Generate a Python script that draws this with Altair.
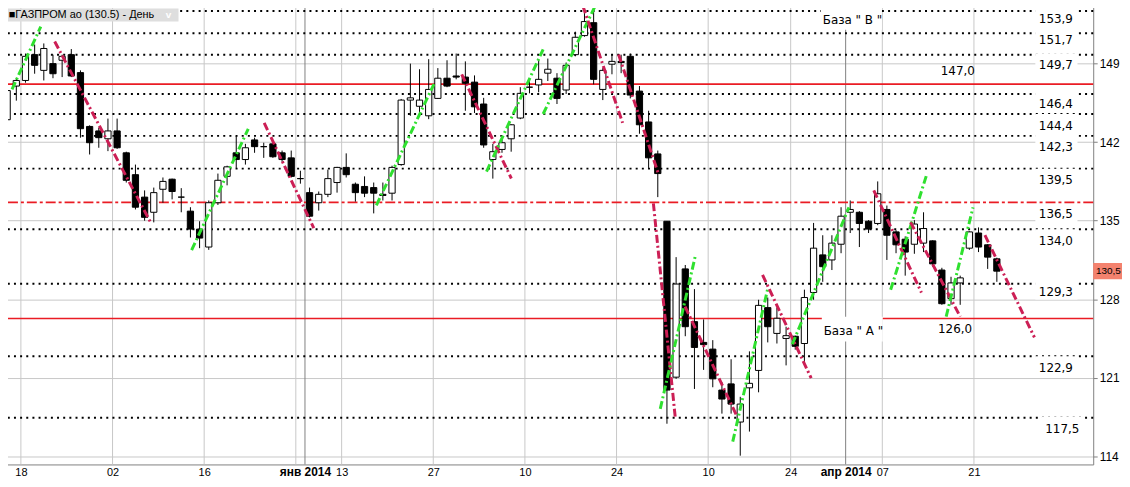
import altair as alt
import pandas as pd

# ---------------- data ----------------
day = list(range(-3, 107))  # trading-day index, 0 = 18 Nov 2013

open_ = [145.7, 144.0, 147.0, 147.5, 149.8, 148.4, 149.0, 149.3, 149.8, 148.2,
         143.4, 143.0, 142.3, 143.0, 141.05, 139.1, 137.1, 135.75, 137.8, 138.7,
         137.1, 135.85, 134.25, 132.65, 136.6, 138.95, 141.05, 140.45, 142.2, 141.6,
         141.85, 141.05, 140.6, 138.75, 137.5, 136.6, 137.35, 138.4, 139.75, 138.25,
         138.05, 137.95, 137.35, 137.45, 140.0, 145.75, 145.2, 144.35, 145.9, 147.7,
         147.9, 147.8, 147.35, 145.4, 140.45, 141.35, 142.3, 144.15, 146.9, 147.1,
         148.15, 147.7, 146.65, 149.8, 151.5, 152.65, 146.7, 148.95, 149.2, 149.65,
         146.55, 143.8, 140.95, 134.95, 121.05, 130.7, 126.0, 124.15, 123.55, 119.9,
         120.45, 117.05, 120.1, 121.65, 127.25, 124.95, 124.5, 124.7, 124.05, 128.6,
         131.95, 131.5, 132.9, 135.75, 135.75, 134.95, 134.75, 136.0, 134.0, 133.35,
         132.9, 133.0, 133.2, 130.6, 128.05, 129.45, 132.55, 133.9, 132.85, 131.6]
high = [146.1, 147.0, 147.7, 149.9, 150.7, 150.8, 149.8, 149.8, 150.3, 148.4,
        143.5, 143.3, 144.1, 144.1, 141.15, 140.0, 137.7, 137.95, 138.85, 138.75,
        137.9, 136.2, 134.95, 136.8, 139.2, 139.9, 142.55, 141.85, 142.4, 141.95,
        142.05, 141.25, 141.25, 139.45, 137.95, 137.6, 139.55, 139.8, 141.0, 138.4,
        138.95, 138.4, 138.4, 139.9, 145.85, 149.0, 148.5, 149.4, 148.6, 149.3,
        149.9, 149.2, 147.95, 145.95, 141.85, 142.4, 143.6, 146.9, 147.7, 149.3,
        149.45, 148.15, 149.1, 151.85, 154.25, 153.6, 148.6, 149.8, 149.8, 149.9,
        147.0, 144.8, 141.25, 134.95, 131.75, 131.05, 128.9, 126.2, 124.35, 120.6,
        122.65, 119.3, 123.35, 127.95, 128.15, 127.25, 125.55, 124.75, 128.85, 134.8,
        133.7, 133.7, 136.2, 136.8, 135.85, 135.05, 138.5, 136.35, 134.15, 133.6,
        135.05, 135.75, 133.25, 130.8, 130.0, 130.1, 134.05, 134.4, 132.9, 131.7]
low = [142.4, 143.5, 145.7, 147.3, 148.1, 147.5, 147.7, 147.8, 147.8, 142.4,
       140.9, 141.5, 141.2, 141.4, 138.4, 136.0, 135.0, 134.85, 136.6, 136.9,
       135.75, 133.5, 132.55, 132.4, 136.4, 138.15, 139.7, 140.0, 141.05, 140.6,
       140.6, 140.25, 138.85, 138.3, 135.3, 135.9, 137.1, 137.5, 138.85, 136.7,
       137.1, 135.65, 136.8, 136.8, 139.9, 144.35, 144.35, 144.05, 145.85, 146.9,
       147.6, 144.8, 144.6, 141.5, 138.75, 141.05, 141.15, 144.05, 146.35, 146.45,
       147.45, 145.4, 146.3, 149.65, 151.4, 147.15, 145.75, 148.05, 148.15, 145.9,
       142.75, 139.7, 137.1, 116.9, 120.9, 124.7, 120.0, 121.7, 120.15, 117.8,
       117.8, 114.05, 116.2, 119.7, 124.15, 124.05, 122.1, 123.5, 122.2, 127.95,
       129.55, 130.6, 132.1, 133.9, 132.65, 133.9, 134.6, 131.5, 132.1, 130.1,
       132.05, 132.2, 130.9, 127.5, 127.5, 127.5, 132.4, 132.2, 130.7, 129.55]
close = [143.0, 146.6, 147.5, 149.65, 148.85, 150.35, 148.1, 149.65, 147.9, 143.2,
         141.95, 142.4, 143.0, 141.5, 138.6, 136.2, 135.3, 137.5, 138.5, 137.6,
         137.1, 134.25, 133.45, 136.6, 138.6, 139.8, 140.45, 141.5, 141.6, 141.6,
         140.7, 140.45, 138.95, 138.75, 135.4, 137.35, 138.75, 139.75, 139.1, 137.5,
         137.45, 137.45, 137.25, 139.75, 145.75, 145.95, 145.75, 146.7, 147.7, 147.0,
         147.8, 147.25, 145.15, 141.75, 141.15, 141.95, 143.55, 146.35, 146.9, 147.6,
         148.5, 145.9, 148.85, 151.35, 152.75, 147.6, 148.4, 149.2, 149.1, 146.2,
         143.55, 140.6, 139.2, 119.9, 129.35, 125.55, 123.7, 123.95, 120.9, 119.1,
         118.65, 118.65, 120.5, 127.45, 125.55, 126.3, 124.75, 123.8, 128.15, 132.55,
         130.9, 133.0, 135.4, 136.0, 134.75, 134.25, 137.4, 133.7, 132.85, 132.2,
         134.7, 134.3, 131.15, 127.6, 129.45, 129.9, 134.0, 132.65, 131.75, 130.5]

# x-axis ticks (gridline positions sit half a day before the candle)
tick_pos = [-0.5, 9.5, 19.5, 30.5, 34.5, 44.5, 54.5, 64.5, 74.5, 83.5, 89.5, 93.5, 103.5]
tick_text = ["18", "02", "16", "янв 2014", "13", "27", "10", "24", "10", "24", "апр 2014", "07", "21"]
month_ticks = [30.5, 89.5]
grid_light = [-0.5, 9.5, 19.5, 29.5, 34.5, 44.5, 54.5, 64.5, 74.5, 83.5, 93.5, 103.5]
y_ticks = [114, 121, 128, 135, 142, 149]

# horizontal levels (as drawn)
dotted_levels = [153.69, 151.71, 149.8, 146.3, 144.51, 142.56, 139.64, 134.24, 129.37, 122.91, 117.43]
red_solid_levels = [147.17, 126.28]
red_dashdot_levels = [136.63]

# level labels on the right edge
right_label_text = ["153,9", "151,7", "149,7", "146,4", "144,4", "142,3", "139,5",
                    "136,5", "134,0", "129,3", "122,9", "117,5"]
right_label_x = [114.3, 114.3, 114.3, 114.3, 114.3, 114.3, 114.3, 114.3, 114.3, 114.3, 114.3, 115.0]
right_label_y = [153.01, 151.06, 148.85, 145.4, 143.45, 141.59, 138.58, 135.57, 133.18, 128.67, 121.85, 116.45]
# inner labels
inner_label_text = ["147,0", "126,0"]
inner_label_x = [103.6, 103.3]
inner_label_y = [148.32, 125.31]
# base labels
base_label_text = ["База \" В \"", "База \" А \""]
base_label_x = [87.0, 87.1]
base_label_y = [152.92, 125.13]

# trend lines (dash-dot)
trend_color = ["g", "r", "r", "g", "r", "g", "r", "g", "g", "r", "r", "r",
               "g", "r", "g", "r", "g", "r", "g", "r", "g", "r"]
trend_x0 = [-1.47, 3.19, -2.77, 18.13, 26.05, 38.29, 47.6, 50.31, 56.49, 60.82, 64.72, 68.52,
            69.27, 71.98, 77.18, 80.43, 83.68, 92.57, 94.41, 96.58, 100.47, 104.7]
trend_y0 = [146.7, 150.97, 142.74, 132.38, 143.72, 136.37, 148.05, 139.38, 144.51, 154.16, 149.82, 136.55,
            118.22, 127.34, 115.3, 130.17, 123.98, 137.7, 128.84, 134.86, 126.45, 133.71]
trend_x1 = [1.67, 13.7, -2.34, 24.31, 31.46, 44.57, 53.02, 56.49, 62.23, 65.16, 69.06, 70.9,
            73.07, 77.62, 80.97, 85.74, 89.86, 97.77, 98.31, 102.0, 103.4, 110.1]
trend_y1 = [152.3, 134.78, 142.03, 143.18, 134.33, 147.17, 138.76, 150.27, 154.25, 143.72, 139.2, 117.51,
            131.77, 117.6, 128.84, 120.96, 136.19, 128.58, 139.02, 126.45, 136.19, 124.6]

title_text = "■ГАЗПРОМ ао (130.5) - День"
last_price = 130.5
last_price_text = "130,5"

# ---------------- styling ----------------
X_DOMAIN = [-2.774, 116.515]
Y_DOMAIN = [113.27, 154.515]
GREEN = "#2fe02f"
CRIMSON = "#cc1f55"
RED = "#ea1c24"
GRID = "#c8c8c8"
AXIS = "#808080"
BODY_HALF = 0.34

xs = alt.Scale(domain=X_DOMAIN, nice=False, zero=False)
ys = alt.Scale(domain=Y_DOMAIN, nice=False, zero=False)

pos_js = "[" + ",".join(str(p) for p in tick_pos) + "]"
txt_js = "[" + ",".join("'" + t + "'" for t in tick_text) + "]"
month_js = "[" + ",".join(str(p) for p in month_ticks) + "]"
bold_test = f"indexof({month_js}, datum.value) >= 0"

x_axis = alt.Axis(
    orient="bottom", values=tick_pos, labelExpr=f"{txt_js}[indexof({pos_js}, datum.value)]",
    ticks=False, grid=False, domain=True, domainColor=AXIS, title=None,
    labelOverlap=False, labelFlush=False, labelPadding=2, labelColor="black",
    labelFont={"condition": {"test": bold_test, "value": "Liberation Sans"},
               "value": "Liberation Sans Narrow, Arial Narrow, Liberation Sans"},
    labelFontWeight={"condition": {"test": bold_test, "value": "bold"}, "value": "normal"},
    labelFontSize={"condition": {"test": bold_test, "value": 12}, "value": 11},
)
y_axis = alt.Axis(
    orient="right", values=y_ticks, grid=True, gridColor=GRID, tickColor=AXIS, tickSize=4,
    domainColor=AXIS, title=None, labelFont="Liberation Sans", labelFontSize=12,
    labelColor="black", labelPadding=2, labelFlush=False,
)


def X(f):
    return alt.X(f, type="quantitative", scale=xs, axis=x_axis)


def Y(f):
    return alt.Y(f, type="quantitative", scale=ys, axis=y_axis)


candles = pd.DataFrame({"i": day, "o": open_, "h": high, "l": low, "c": close})
candles["up"] = candles["c"] >= candles["o"]
candles["top"] = candles[["o", "c"]].max(axis=1)
candles["bot"] = candles[["o", "c"]].min(axis=1)
candles["xl"] = candles["i"] - BODY_HALF
candles["xr"] = candles["i"] + BODY_HALF

rows = []
for k in range(len(trend_color)):
    rows.append({"seg": k, "col": trend_color[k], "x": trend_x0[k], "y": trend_y0[k]})
    rows.append({"seg": k, "col": trend_color[k], "x": trend_x1[k], "y": trend_y1[k]})
trends = pd.DataFrame(rows)

right_labels = pd.DataFrame({"t": right_label_text, "x": right_label_x, "y": right_label_y})
right_labels["bx1"] = right_labels["x"] - 4.1
right_labels["bx2"] = right_labels["x"] + 0.5
right_labels["by1"] = right_labels["y"] + 1.06
right_labels["by2"] = right_labels["y"] - 0.7
inner_labels = pd.DataFrame({"t": inner_label_text, "x": inner_label_x, "y": inner_label_y})
base_labels = pd.DataFrame({"t": base_label_text, "x": base_label_x, "y": base_label_y})
base_labels["bx1"] = base_labels["x"] - 0.2
base_labels["bx2"] = base_labels["x"] + 6.45
base_labels["by1"] = base_labels["y"] + 1.3
base_labels["by2"] = base_labels["y"] - 0.9

legend_df = pd.DataFrame({"x1": [X_DOMAIN[0] + 0.33], "x2": [16.7], "y1": [Y_DOMAIN[1] - 0.6],
                          "y2": [152.75], "tx": [X_DOMAIN[0] + 0.95], "ty": [153.33], "t": [title_text],
                          "cx": [15.6], "c": ["v"]})
price_df = pd.DataFrame({"x1": [X_DOMAIN[1]], "x2": [120.5], "y1": [last_price + 0.72],
                         "y2": [last_price - 0.72], "tx": [X_DOMAIN[1] + 0.3], "ty": [last_price],
                         "t": [last_price_text]})

layers = []
layers.append(alt.Chart(pd.DataFrame({"g": grid_light})).mark_rule(color=GRID, strokeWidth=1).encode(x=X("g")))
layers.append(alt.Chart(pd.DataFrame({"g": month_ticks})).mark_rule(color=AXIS, strokeWidth=1).encode(x=X("g")))
layers.append(alt.Chart(pd.DataFrame({"v": dotted_levels})).mark_rule(
    color="black", strokeWidth=2, strokeDash=[2, 4.2]).encode(y=Y("v")))
layers.append(alt.Chart(right_labels).mark_rect(color="white").encode(
    x=X("bx1"), x2="bx2", y=Y("by1"), y2="by2"))
layers.append(alt.Chart(pd.DataFrame({"v": red_solid_levels})).mark_rule(
    color=RED, strokeWidth=1.6).encode(y=Y("v")))
layers.append(alt.Chart(pd.DataFrame({"v": red_dashdot_levels})).mark_rule(
    color=RED, strokeWidth=1.6, strokeDash=[10, 3, 3, 3]).encode(y=Y("v")))
layers.append(alt.Chart(base_labels).mark_rect(color="white").encode(
    x=X("bx1"), x2="bx2", y=Y("by1"), y2="by2"))
layers.append(alt.Chart(candles).mark_rule(color="black", strokeWidth=1).encode(
    x=X("i"), y=Y("l"), y2="h"))
layers.append(alt.Chart(candles).mark_rect(stroke="black", strokeWidth=1).encode(
    x=X("xl"), x2="xr", y=Y("bot"), y2="top",
    fill=alt.condition("datum.up", alt.value("white"), alt.value("black"))))
layers.append(alt.Chart(trends).mark_line(strokeWidth=3, strokeDash=[8, 3, 2, 3]).encode(
    x=X("x"), y=Y("y"), detail="seg:N",
    color=alt.Color("col:N", scale=alt.Scale(domain=["g", "r"], range=[GREEN, CRIMSON]), legend=None)))
layers.append(alt.Chart(right_labels).mark_text(
    align="right", baseline="middle", font="DejaVu Sans", fontSize=12, color="black").encode(
    x=X("x"), y=Y("y"), text="t:N"))
layers.append(alt.Chart(inner_labels).mark_text(
    align="right", baseline="middle", font="DejaVu Sans", fontSize=12, color="black").encode(
    x=X("x"), y=Y("y"), text="t:N"))
layers.append(alt.Chart(base_labels).mark_text(
    align="left", baseline="middle", font="DejaVu Sans", fontSize=12, color="black").encode(
    x=X("x"), y=Y("y"), text="t:N"))
layers.append(alt.Chart(legend_df).mark_rect(color="#dedede").encode(
    x=X("x1"), x2="x2", y=Y("y1"), y2="y2"))
layers.append(alt.Chart(legend_df).mark_text(
    align="left", baseline="middle", font="Liberation Sans", fontSize=11, color="black").encode(
    x=X("tx"), y=Y("ty"), text="t:N"))
layers.append(alt.Chart(legend_df).mark_text(
    align="center", baseline="middle", font="Liberation Sans", fontSize=10, fontWeight="bold",
    color="white").encode(x=X("cx"), y=Y("ty"), text="c:N"))
layers.append(alt.Chart(price_df).mark_rect(color="#f4826e").encode(
    x=X("x1"), x2="x2", y=Y("y1"), y2="y2"))
layers.append(alt.Chart(price_df).mark_text(
    align="left", baseline="middle", font="Liberation Sans", fontSize=10, color="black").encode(
    x=X("tx"), y=Y("ty"), text="t:N"))

chart = alt.layer(*layers).properties(
    width=1101, height=466,
    autosize=alt.AutoSizeParams(type="none"),
    padding={"left": -8, "top": -8, "right": 29, "bottom": 21},
    background="white",
).configure_view(strokeWidth=0)

chart.save("out.html", embed_options={"renderer": "svg", "actions": False})
